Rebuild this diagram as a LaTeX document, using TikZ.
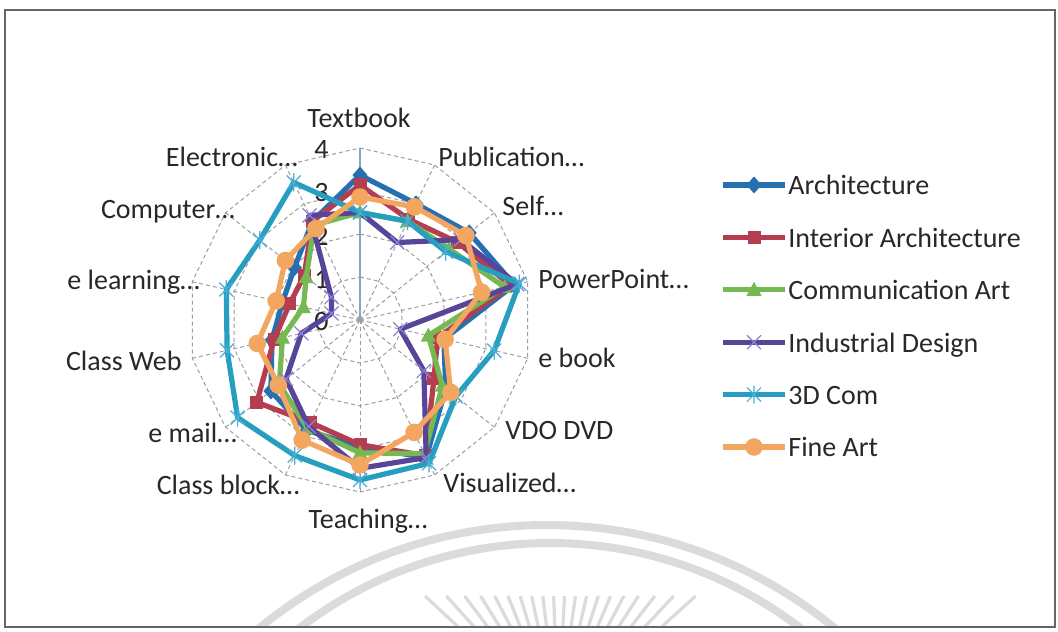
\documentclass[tikz,border=0pt]{standalone}
\usepackage{fontspec}
\setmainfont{Carlito}
\usetikzlibrary{calc}
\definecolor{cA}{RGB}{38,112,178}
\definecolor{cB}{RGB}{180,62,80}
\definecolor{cC}{RGB}{118,184,82}
\definecolor{cD}{RGB}{88,68,152}
\definecolor{cDm}{RGB}{140,130,215}
\definecolor{cE}{RGB}{38,158,192}
\definecolor{cEm}{RGB}{70,175,215}
\definecolor{cF}{RGB}{242,166,96}
\definecolor{txt}{RGB}{40,40,40}
\definecolor{vax}{RGB}{140,165,180}
\newcommand\radarpts[2]{%
  \foreach \v [count=\i from 0] in {#2} {%
    \coordinate (#1\i) at ($(c)+({90-\i*360/14}:{43*\v})$);}}
\tikzset{
  ring/.style={draw=black!38, line width=0.5pt, dash pattern=on 2pt off 1.5pt},
  spoke/.style={draw=black!38, line width=0.5pt, dash pattern=on 2pt off 1.5pt},
  vaxis/.style={draw=vax, line width=0.6pt},
  serline/.style={line width=2.6pt, line join=round, line cap=round},
  lab/.style={inner sep=0pt, text=txt},
  frame/.style={draw=black!60, line width=1pt},
  wm/.style={draw=black!14, line width=4pt},
  wmray/.style={draw=black!14, line width=1.6pt},
  mA/.pic={\fill[cA] (0,8.5) -- (7.5,0) -- (0,-8.5) -- (-7.5,0) -- cycle;},
  mB/.pic={\fill[cB] (-6.5,-6.5) rectangle (6.5,6.5);},
  mC/.pic={\fill[cC] (0,8) -- (7.5,-6) -- (-7.5,-6) -- cycle;},
  mD/.pic={\draw[cDm, line width=0.6pt] (-7,-7) -- (7,7) (-7,7) -- (7,-7);},
  mE/.pic={\draw[cEm, line width=0.6pt] (-7,-7) -- (7,7) (-7,7) -- (7,-7) (0,-9) -- (0,9);},
  mF/.pic={\fill[cF] (0,0) circle[radius=4.4pt];}
}
\begin{document}
\begin{tikzpicture}[x=0.5pt,y=0.5pt,font=\fontsize{14}{16}\selectfont]
\useasboundingbox (0,0) rectangle (1058,631);
\fill[white] (0,0) rectangle (1058,631);
% watermark
\begin{scope}
\clip (5,4) rectangle (1055,621);
\draw[wm] (547,-347) ++(50.2:453) arc[start angle=50.2,end angle=129.8,radius=226.5pt];
\draw[wm] (550,-323) ++(52:411) arc[start angle=52,end angle=128,radius=205.5pt];
\foreach \a in {42,47,...,138} \draw[wmray] (558,-89) ++(\a:{124/sin(\a)}) -- ++(\a:-45);
\end{scope}
\draw[frame] (5,4) rectangle (1055,621);
% grid
\coordinate (c) at (360,311);
\foreach \r in {1,2,3,4} {
  \draw[ring] ($(c)+(90:{43*\r})$) \foreach \i in {1,...,13}{ -- ($(c)+({90-\i*360/14}:{43*\r})$)} -- cycle;
}
\foreach \i in {1,...,13} \draw[spoke] (c) -- ($(c)+({90-\i*360/14}:172)$);
\draw[vaxis] (c) -- ($(c)+(90:172)$);
% ring labels
\foreach \r in {0,...,4} \node[lab, anchor=east] (rl\r) at (329,{311+43*\r-2}) {\r};
% axis labels
\node[lab, anchor=base] (l0) at (359,503) {Textbook};
\node[lab, anchor=base west] (l1) at (438,464) {Publication…};
\node[lab, anchor=base west] (l2) at (502,415) {Self…};
\node[lab, anchor=base west] (l3) at (538,342) {PowerPoint…};
\node[lab, anchor=base west] (l4) at (538,263) {e book};
\node[lab, anchor=base west] (l5) at (505,191) {VDO DVD};
\node[lab, anchor=base west] (l6) at (443,138) {Visualized…};
\node[lab, anchor=base] (l7) at (368,103) {Teaching…};
\node[lab, anchor=base east] (l8) at (300,136) {Class block…};
\node[lab, anchor=base east] (l9) at (237,188) {e mail…};
\node[lab, anchor=base east] (l10) at (182,260) {Class Web};
\node[lab, anchor=base east] (l11) at (200,341) {e learning…};
\node[lab, anchor=base east] (l12) at (235,412) {Computer…};
\node[lab, anchor=base east] (l13) at (298,464) {Electronic…};
% data
\radarpts{A}{3.37,3.0,3.25,3.68,2.0,2.55,3.55,2.95,2.85,2.65,2.1,1.85,1.95,2.55}
\radarpts{B}{3.14,2.6,2.9,3.6,1.85,2.2,3.5,2.9,2.65,3.07,2.05,1.68,1.66,2.55}
\radarpts{C}{2.5,2.55,2.65,3.45,1.63,2.45,3.45,3.09,2.8,2.4,1.85,1.35,1.6,2.45}
\radarpts{D}{2.5,2.0,3.0,3.75,0.96,1.9,3.55,3.45,2.75,2.2,1.4,0.68,0.85,2.7}
\radarpts{E}{2.5,2.55,2.55,3.8,3.2,2.85,3.7,3.72,3.5,3.64,3.17,3.19,2.98,3.55}
\radarpts{F}{2.86,2.92,3.15,2.9,2.03,2.7,2.9,3.37,3.1,2.43,2.45,2.0,2.22,2.36}
\foreach \s/\col in {A/cA,B/cB,C/cC,D/cD,E/cE,F/cF} {
  \draw[serline, draw=\col] (\s0) \foreach \i in {1,...,13}{ -- (\s\i)} -- cycle;
  \foreach \i in {0,...,13} \pic at (\s\i) {m\s};
}
% legend
\foreach \s/\col/\name [count=\k from 0] in {A/cA/Architecture,B/cB/Interior Architecture,C/cC/Communication Art,D/cD/Industrial Design,E/cE/3D Com,F/cF/Fine Art} {
  \coordinate (g\s1) at (723,{446-52.4*\k});
  \coordinate (g\s2) at (785,{446-52.4*\k});
  \draw[serline, line cap=butt, draw=\col] (g\s1) -- (g\s2);
  \pic at ($(g\s1)!0.5!(g\s2)$) {m\s};
  \node[lab, anchor=base west] (t\s) at (788,{436-52.4*\k}) {\name};
}
\end{tikzpicture}
\end{document}
